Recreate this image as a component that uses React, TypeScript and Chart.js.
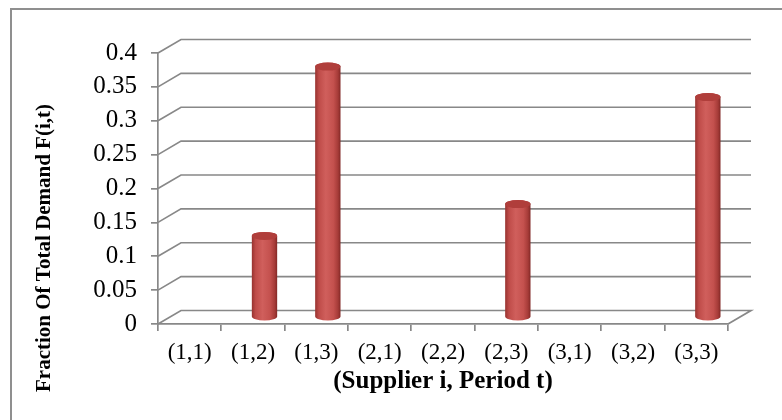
import { useEffect, useRef } from 'react';
import { Chart, registerables } from 'chart.js';

Chart.register(...registerables);

// ---- data ----
const categories = ['(1,1)', '(1,2)', '(1,3)', '(2,1)', '(2,2)', '(2,3)', '(3,1)', '(3,2)', '(3,3)'];
const fractions = [0, 0.12, 0.37, 0, 0, 0.167, 0, 0, 0.325];
const yTickValues = [0, 0.05, 0.1, 0.15, 0.2, 0.25, 0.3, 0.35, 0.4];
const yTitle = 'Fraction Of Total Demand F(i,t)';
const xTitle = '(Supplier i, Period t)';

// ---- styles ----
const SERIF = "'Liberation Serif', 'Times New Roman', Times, serif";
const GRID = '#888888';
const DX = 23;
const DY = -13.5;

const excel3d = {
  id: 'excel3d',
  beforeDraw(chart: any) {
    const { ctx, width, height } = chart;
    ctx.save();
    ctx.fillStyle = '#ffffff';
    ctx.fillRect(0, 0, width, height);
    ctx.strokeStyle = '#8f8f8f';
    ctx.lineWidth = 2;
    ctx.beginPath();
    ctx.moveTo(11, height);
    ctx.lineTo(11, 9);
    ctx.lineTo(width, 9);
    ctx.stroke();
    ctx.restore();
  },
  beforeDatasetsDraw(chart: any) {
    const { ctx, chartArea } = chart;
    const y = chart.scales.y;
    const { left, right } = chartArea;
    ctx.save();
    ctx.strokeStyle = GRID;
    ctx.lineWidth = 1.7;
    y.ticks.forEach((t: any) => {
      const py = y.getPixelForValue(t.value);
      ctx.beginPath();
      if (t.value === 0) {
        ctx.moveTo(right, py);
        ctx.lineTo(right + DX, py + DY);
        ctx.lineTo(left + DX, py + DY);
        ctx.lineTo(left, py);
      } else {
        ctx.moveTo(left, py);
        ctx.lineTo(left + DX, py + DY);
        ctx.lineTo(right + DX, py + DY);
      }
      ctx.stroke();
    });
    ctx.restore();
  },
  afterDatasetsDraw(chart: any) {
    const { ctx } = chart;
    const meta = chart.getDatasetMeta(0);
    ctx.save();
    meta.data.forEach((el: any, i: number) => {
      const v = fractions[i];
      if (!v) return;
      const { x, y, base, width } = el.getProps(['x', 'y', 'base', 'width'], true);
      const cx = x + DX / 2;
      const ty = y + DY / 2;
      const by = base + DY / 2;
      const rx = width / 2;
      const ry = 4;
      const l = cx - rx;
      const r = cx + rx;
      const g = ctx.createLinearGradient(l, 0, r, 0);
      g.addColorStop(0, '#97322f');
      g.addColorStop(0.15, '#bf4c49');
      g.addColorStop(0.42, '#d05f5c');
      g.addColorStop(0.72, '#c4514e');
      g.addColorStop(0.9, '#a63b38');
      g.addColorStop(1, '#822826');
      ctx.beginPath();
      ctx.moveTo(l, ty);
      ctx.lineTo(l, by);
      ctx.ellipse(cx, by, rx, ry, 0, Math.PI, 0, true);
      ctx.lineTo(r, ty);
      ctx.ellipse(cx, ty, rx, ry, 0, 0, Math.PI, true);
      ctx.closePath();
      ctx.fillStyle = g;
      ctx.fill();
      ctx.beginPath();
      ctx.ellipse(cx, ty, rx, ry, 0, 0, Math.PI * 2);
      ctx.fillStyle = '#b03e3b';
      ctx.fill();
    });
    ctx.restore();
  },
  afterDraw(chart: any) {
    const { ctx } = chart;
    ctx.save();
    ctx.translate(45, 248);
    ctx.rotate(-Math.PI / 2);
    ctx.font = `bold 21px ${SERIF}`;
    ctx.fillStyle = '#000';
    ctx.textAlign = 'center';
    ctx.textBaseline = 'middle';
    ctx.fillText(yTitle, 0, 0);
    ctx.restore();
  },
};

export default function App() {
  const ref = useRef<HTMLCanvasElement>(null);
  useEffect(() => {
    const chart = new Chart(ref.current as HTMLCanvasElement, {
      type: 'bar',
      data: {
        labels: categories,
        datasets: [
          {
            data: fractions,
            backgroundColor: 'rgba(0,0,0,0)',
            borderWidth: 0,
            barPercentage: 0.4,
            categoryPercentage: 1,
          },
        ],
      },
      options: {
        responsive: false,
        animation: false,
        devicePixelRatio: 1,
        layout: { padding: { left: 0, top: 53, right: 54, bottom: 0 } },
        plugins: { legend: { display: false }, tooltip: { enabled: false } },
        scales: {
          x: {
            grid: { offset: true, drawOnChartArea: false, tickLength: 7, color: GRID, lineWidth: 1.7 },
            border: { color: GRID, width: 1.7 },
            ticks: { font: { family: SERIF, size: 23 }, color: '#000', padding: 8, maxRotation: 0, autoSkip: false },
            title: {
              display: true,
              text: xTitle,
              font: { family: SERIF, size: 25, weight: 'bold' },
              color: '#000',
              padding: { top: 0, bottom: 23 },
            },
            afterFit: (s: any) => {
              s.height = 96;
            },
          },
          y: {
            min: 0,
            max: 0.4,
            afterBuildTicks: (s: any) => {
              s.ticks = yTickValues.map((v) => ({ value: v }));
            },
            grid: { drawOnChartArea: false, tickLength: 7, color: GRID, lineWidth: 1.7 },
            border: { color: GRID, width: 1.7 },
            ticks: {
              font: { family: SERIF, size: 25 },
              color: '#000',
              padding: 14,
              callback: (v: any) => String(+Number(v).toFixed(2)),
            },
            afterFit: (s: any) => {
              s.width = 158;
            },
          },
        },
      },
      plugins: [excel3d],
    } as any);
    return () => chart.destroy();
  }, []);
  return (
    <div style={{ position: 'fixed', left: 0, top: 0, width: 782, height: 420, background: '#fff' }}>
      <canvas ref={ref} width={782} height={420} style={{ display: 'block', width: 782, height: 420 }} />
    </div>
  );
}
